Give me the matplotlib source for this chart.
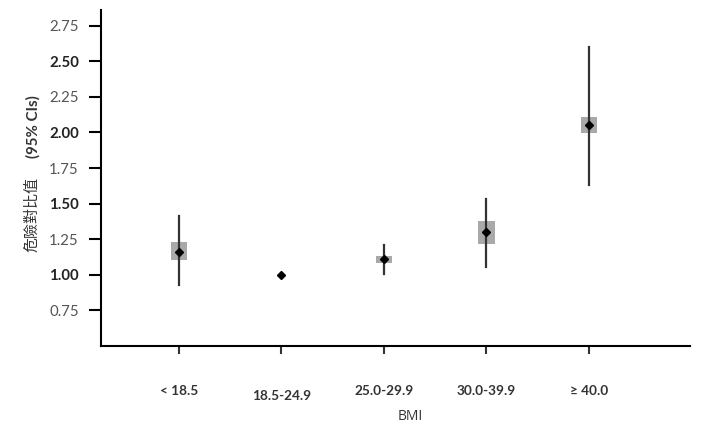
import matplotlib
matplotlib.use('Agg')
import matplotlib.pyplot as plt
import matplotlib.transforms as mtransforms
from matplotlib.patches import Rectangle

groups = ['< 18.5', '18.5-24.9', '25.0-29.9', '30.0-39.9', '\u2265 40.0']
hr = [1.16, 1.00, 1.11, 1.30, 2.05]
ci_lo = [0.93, 1.00, 1.005, 1.055, 1.63]
ci_hi = [1.41, 1.00, 1.21, 1.53, 2.60]
box_lo = [1.105, 1.00, 1.08, 1.215, 1.995]
box_hi = [1.23, 1.00, 1.135, 1.375, 2.105]
yticks = [0.75, 1.00, 1.25, 1.50, 1.75, 2.00, 2.25, 2.50, 2.75]

plt.rcParams['font.family'] = ['Lato', 'DejaVu Sans']

fig = plt.figure(figsize=(7.14, 4.32), dpi=100)
ax = fig.add_axes([0.1415, 0.199, 0.8245, 0.778])

xs = list(range(len(groups)))
bw = 0.16
for x, lo, hi, blo, bhi in zip(xs, ci_lo, ci_hi, box_lo, box_hi):
    if bhi > blo:
        ax.add_patch(Rectangle((x - bw / 2, blo), bw, bhi - blo,
                               facecolor='#a9a9a9', edgecolor='none', zorder=2))
    if hi > lo:
        ax.plot([x, x], [lo, hi], color='#333333', lw=1.6, zorder=3)
ax.plot(xs, hr, 'D', color='black', ms=3.6, zorder=4)

ax.set_xlim(-0.76, 4.985)
ax.set_ylim(0.5, 2.86)

for s in ['top', 'right']:
    ax.spines[s].set_visible(False)
for s in ['left', 'bottom']:
    ax.spines[s].set_linewidth(1.5)
    ax.spines[s].set_color('black')

ax.set_yticks(yticks)
ax.set_yticklabels(['%.2f' % v for v in yticks])
ax.tick_params(axis='y', length=9, width=1.5, pad=7, labelsize=10.8)
for i, lab in enumerate(ax.get_yticklabels()):
    if i % 2 == 1:
        lab.set_fontweight('bold')
        lab.set_color('#222222')
    else:
        lab.set_color('#555555')

ax.set_xticks(xs)
ax.set_xticklabels(groups, fontweight='bold', color='#333333')
ax.tick_params(axis='x', length=6, width=1.5, pad=22, labelsize=9.8, color='#333333')
off = mtransforms.ScaledTranslation(0, -5 / 100, fig.dpi_scale_trans)
lab = ax.get_xticklabels()[1]
lab.set_transform(lab.get_transform() + off)

fig.text(410 / 714, 1 - 417 / 432, 'BMI', ha='center', va='center',
         fontsize=10, color='#333333', family=['Open Sans', 'DejaVu Sans'])
fig.text(32 / 714, 1 - 215 / 432, '危險對比值', rotation=90, ha='center', va='center',
         fontsize=10.8, color='#333333', family=['Noto Sans CJK TC', 'DejaVu Sans'])
fig.text(33 / 714, 1 - 127 / 432, '(95% CIs)', rotation=90, ha='center', va='center',
         fontsize=10.8, fontweight='bold', color='#333333')

fig.savefig('out.png', dpi=100)
